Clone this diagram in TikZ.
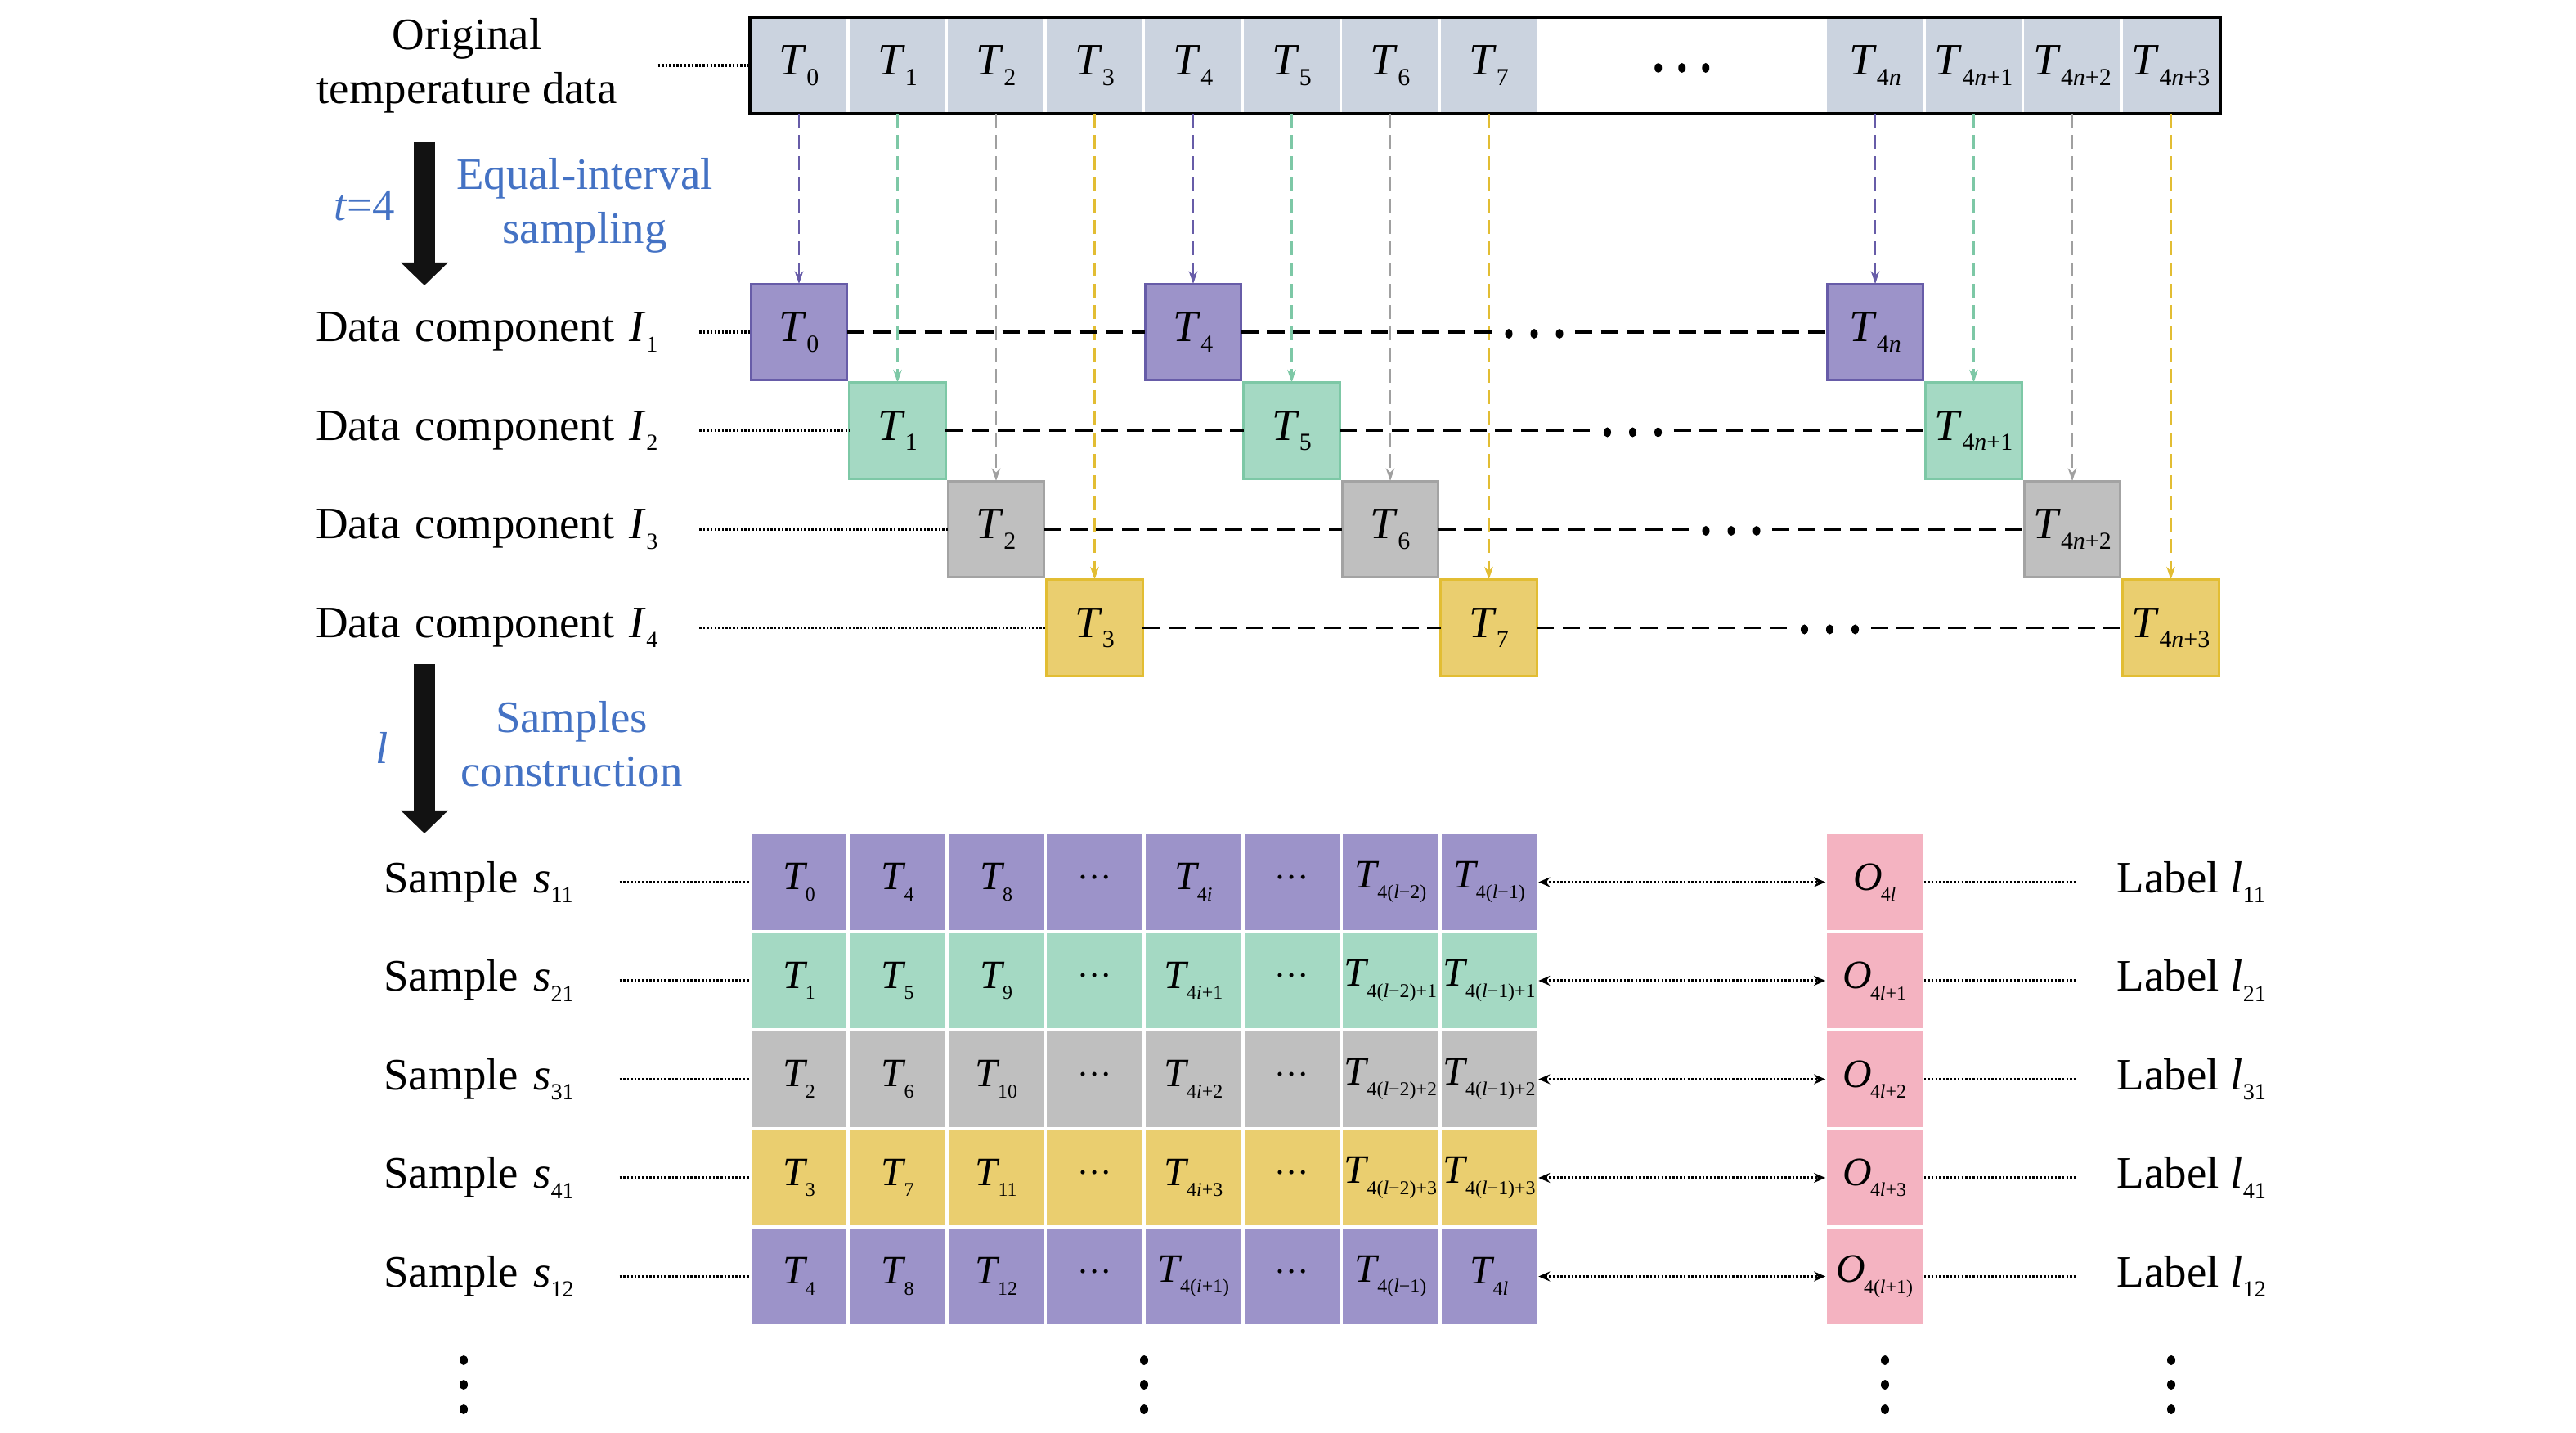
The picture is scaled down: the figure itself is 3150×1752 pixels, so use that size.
\documentclass[tikz,border=0pt]{standalone}
\usepackage{fontspec}
\setmainfont{Liberation Serif}
\usetikzlibrary{arrows.meta, positioning}

\definecolor{barfill}{RGB}{203,211,223}
\definecolor{fillP}{RGB}{156,147,201}
\definecolor{lineP}{RGB}{103,92,168}
\definecolor{arrowP}{RGB}{103,92,168}
\definecolor{fillG}{RGB}{164,217,195}
\definecolor{lineG}{RGB}{125,200,166}
\definecolor{arrowG}{RGB}{125,200,166}
\definecolor{fillS}{RGB}{191,191,191}
\definecolor{lineS}{RGB}{163,163,163}
\definecolor{arrowS}{RGB}{160,160,160}
\definecolor{fillY}{RGB}{234,206,111}
\definecolor{lineY}{RGB}{226,189,51}
\definecolor{arrowY}{RGB}{226,189,51}
\definecolor{pinkfill}{RGB}{244,179,193}
\definecolor{notecolor}{RGB}{68,114,196}

\newcommand{\tsub}[3][8.5]{\textit{#2}\raisebox{-0.5ex}{\fontsize{#1}{#1}\selectfont #3}}
\newcommand{\gsub}[2]{\textit{#1}\kern-0.05em\raisebox{-0.6ex}{\fontsize{6.8}{6.8}\selectfont #2}}

\begin{document}
\begin{tikzpicture}[x=0.01cm, y=-0.01cm,
  every node/.style={font=\fontsize{15.6}{18.8}\selectfont, inner sep=0pt, outer sep=0pt},
  barcell/.style={minimum width=1.205cm, minimum height=1.18cm, fill=barfill, draw=white, line width=1pt},
  compbox/.style={minimum width=1.175cm, minimum height=1.175cm, line width=0.85pt},
  gcell/.style={minimum width=1.205cm, minimum height=1.205cm, draw=white, line width=1.1pt, font=\fontsize{14}{16}\selectfont},
  note/.style={text=notecolor},
  leader/.style={line width=1.1pt, dash pattern=on 0.7pt off 0.6pt},
  rowdash/.style={line width=1.1pt, dash pattern=on 6pt off 3pt},
  vline/.style={line width=0.6pt, dash pattern=on 4.8pt off 2.6pt, -{Stealth[length=4.5pt,width=3pt]}},
  link/.style={leader, {Stealth[length=4pt,width=3.4pt]}-{Stealth[length=4pt,width=3.4pt]}},
  bigarrow/.style={line width=0.26cm, -{Triangle[width=0.56cm,length=0.28cm]}, color=black!93},
  dotgap/.style={minimum width=1cm, minimum height=0.3cm}]
  \useasboundingbox (0,0) rectangle (3150,1752);

  % original series
  \node[align=center] (orig) at (571,80) {Original\\temperature data};
  \foreach \m in {0,...,7}
    \node[barcell] (b\m) at (977+120.5*\m,80) {\tsub{T}{\m}};
  \foreach \k/\ua in {0/{4\textit{n}},1/{4\textit{n}+1},2/{4\textit{n}+2},3/{4\textit{n}+3}}
    \node[barcell] (bn\k) at (2293+120.5*\k,80) {\tsub{T}{\ua}};
  \draw[line width=1.1pt] (b0.north west) rectangle (bn3.south east);
  \path (b7) -- node (topdots) {} (bn0);
  \foreach \k in {-1,0,1}
    \fill ([xshift=\k*0.29cm, yshift=-0.03cm]topdots) ellipse [x radius=0.045cm, y radius=0.06cm];
  \draw[leader, shorten <=0.5cm] (orig) -- (b0);

  % data components
  \foreach \m/\r/\cl in {0/0/P,1/1/G,2/2/S,3/3/Y,4/0/P,5/1/G,6/2/S,7/3/Y} {
    \node[compbox, fill=fill\cl, draw=line\cl] (d\m) at (977+120.5*\m,406+120.5*\r) {\tsub{T}{\m}};
    \draw[vline, color=arrow\cl] (b\m) -- (d\m);
  }
  \foreach \k/\cl/\ua in {0/P/{4\textit{n}},1/G/{4\textit{n}+1},2/S/{4\textit{n}+2},3/Y/{4\textit{n}+3}} {
    \node[compbox, fill=fill\cl, draw=line\cl] (dn\k) at (2293+120.5*\k,406+120.5*\k) {\tsub{T}{\ua}};
    \draw[vline, color=arrow\cl] (bn\k) -- (dn\k);
  }
  \foreach \r [evaluate=\r as \n using int(\r+1), evaluate=\r as \s using int(\r+4)] in {0,...,3} {
    \node[anchor=west, text width=4.69cm, align=left] (cl\r) at (386,406+120.5*\r) {Data component \tsub[8]{I}{\n}};
    \path (d\s) -- node[dotgap] (dots\r) {} (dn\r);
    \foreach \k in {-1,0,1}
      \fill ([xshift=\k*0.31cm, yshift=-0.02cm]dots\r) ellipse [x radius=0.045cm, y radius=0.06cm];
    \draw[leader] (cl\r) -- (d\r);
    \path[rowdash] (d\r) edge (d\s) (d\s) edge (dots\r) (dots\r) edge (dn\r);
  }

  % step arrows
  \coordinate (a1top) at (519,173);
  \coordinate (a1tip) at (519,349);
  \coordinate (a2top) at (519,812);
  \coordinate (a2tip) at (519,1019);
  \draw[bigarrow] (a1top) -- (a1tip);
  \draw[bigarrow] (a2top) -- (a2tip);
  \node[note] (tnote) at (446,252) {\textit{t}=4};
  \node[note, align=center] (sampling) at (715,251) {Equal-interval\\sampling};
  \node[note] (lnote) at (467,914) {\textit{l}};
  \node[note, align=center] (construct) at (699,910) {Samples\\construction};

  % samples and labels
  \foreach \r/\cl/\ua/\ub/\uc/\ud/\ue/\uf/\uo/\lab in {
      0/P/0/4/8/{4\textit{i}}/{4(\textit{l}−2)}/{4(\textit{l}−1)}/{4\textit{l}}/11,
      1/G/1/5/9/{4\textit{i}+1}/{4(\textit{l}−2)+1}/{4(\textit{l}−1)+1}/{4\textit{l}+1}/21,
      2/S/2/6/10/{4\textit{i}+2}/{4(\textit{l}−2)+2}/{4(\textit{l}−1)+2}/{4\textit{l}+2}/31,
      3/Y/3/7/11/{4\textit{i}+3}/{4(\textit{l}−2)+3}/{4(\textit{l}−1)+3}/{4\textit{l}+3}/41,
      4/P/4/8/12/{4(\textit{i}+1)}/{4(\textit{l}−1)}/{4\textit{l}}/{4(\textit{l}+1)}/12} {
    \node[gcell, fill=fill\cl] (g\r0) at (977,1078.5+120.5*\r) {\gsub{T}{\ua}};
    \node[gcell, fill=fill\cl, right=0pt of g\r0] (g\r1) {\gsub{T}{\ub}};
    \node[gcell, fill=fill\cl, right=0pt of g\r1] (g\r2) {\gsub{T}{\uc}};
    \node[gcell, fill=fill\cl, right=0pt of g\r2] (g\r3) {\fontsize{12}{12}\selectfont\raisebox{0.3em}{…}};
    \node[gcell, fill=fill\cl, right=0pt of g\r3] (g\r4) {\gsub{T}{\ud}};
    \node[gcell, fill=fill\cl, right=0pt of g\r4] (g\r5) {\fontsize{12}{12}\selectfont\raisebox{0.3em}{…}};
    \node[gcell, fill=fill\cl, right=0pt of g\r5] (g\r6) {\gsub{T}{\ue}};
    \node[gcell, fill=fill\cl, right=0pt of g\r6] (g\r7) {\gsub{T}{\uf}};
    \node[gcell, fill=pinkfill] (o\r) at (2292.5,1078.5+120.5*\r) {\gsub{O}{\uo}};
    \node[text width=2.88cm, align=left, left=1.59cm of g\r0] (sl\r) {Sample \tsub[8]{s}{\lab}};
    \node[right=2.36cm of o\r] (lab\r) {Label \tsub[8]{l}{\lab}};
    \draw[leader] (sl\r) -- (g\r0);
    \draw[link] (g\r7) -- (o\r);
    \draw[leader, shorten >=0.5cm] (o\r) -- (lab\r);
  }
  \foreach \x in {567,1399,2305,2655}
    \foreach \k in {0,1,2}
      \fill (\x,1663+30*\k) ellipse [x radius=0.05cm, y radius=0.06cm];
\end{tikzpicture}
\end{document}
